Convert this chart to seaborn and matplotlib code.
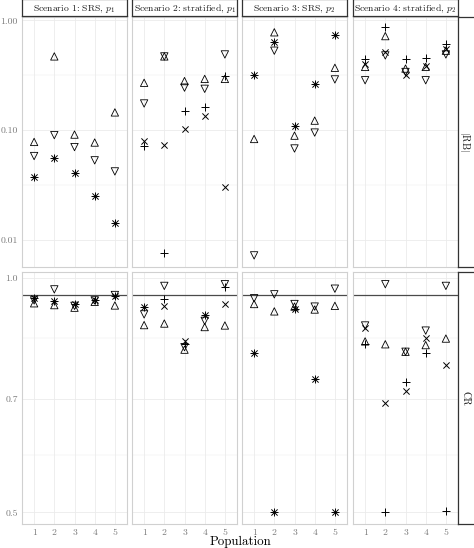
import numpy as np
import pandas as pd
import matplotlib
matplotlib.use("Agg")
import matplotlib.pyplot as plt
import seaborn as sns

# ---------------- data ----------------
populations = [1, 2, 3, 4, 5]
scenarios = ["Scenario 1: SRS, $p_1$", "Scenario 2: stratified, $p_1$",
             "Scenario 3: SRS, $p_2$", "Scenario 4: stratified, $p_2$"]
metrics = ["|RB|", "CR"]
estimators = ["tri_up", "tri_down", "cross", "plus"]

# |RB|
rb_s1_up = [0.078, 0.47, 0.091, 0.077, 0.145]
rb_s1_down = [0.058, 0.090, 0.070, 0.053, 0.042]
rb_s1_cross = [0.037, 0.056, 0.041, 0.025, 0.0143]
rb_s1_plus = [0.037, 0.056, 0.041, 0.025, 0.0143]

rb_s2_up = [0.27, 0.47, 0.28, 0.293, 0.293]
rb_s2_down = [0.175, 0.47, 0.244, 0.238, 0.49]
rb_s2_cross = [0.080, 0.073, 0.103, 0.135, 0.030]
rb_s2_plus = [0.072, 0.0075, 0.148, 0.162, 0.31]

rb_s3_up = [0.083, 0.78, 0.089, 0.122, 0.37]
rb_s3_down = [0.0072, 0.53, 0.068, 0.095, 0.29]
rb_s3_cross = [0.32, 0.64, 0.109, 0.266, 0.74]
rb_s3_plus = [0.32, 0.64, 0.109, 0.266, 0.74]

rb_s4_up = [0.377, 0.72, 0.364, 0.377, 0.53]
rb_s4_down = [0.285, 0.48, 0.339, 0.285, 0.49]
rb_s4_cross = [0.40, 0.515, 0.32, 0.385, 0.545]
rb_s4_plus = [0.445, 0.87, 0.445, 0.45, 0.61]

# CR
cr_s1_up = [0.928, 0.923, 0.916, 0.932, 0.922]
cr_s1_down = [0.936, 0.967, 0.921, 0.936, 0.951]
cr_s1_cross = [0.942, 0.934, 0.925, 0.938, 0.949]
cr_s1_plus = [0.942, 0.934, 0.925, 0.938, 0.949]

cr_s2_up = [0.870, 0.874, 0.809, 0.865, 0.869]
cr_s2_down = [0.898, 0.977, 0.815, 0.881, 0.982]
cr_s2_cross = [0.917, 0.921, 0.830, 0.896, 0.925]
cr_s2_plus = [0.917, 0.941, 0.822, 0.896, 0.973]

cr_s3_up = [0.926, 0.906, 0.919, 0.911, 0.921]
cr_s3_down = [0.942, 0.953, 0.926, 0.919, 0.969]
cr_s3_cross = [0.800, 0.500, 0.912, 0.742, 0.500]
cr_s3_plus = [0.800, 0.500, 0.912, 0.742, 0.500]

cr_s4_up = [0.829, 0.822, 0.804, 0.820, 0.836]
cr_s4_down = [0.869, 0.982, 0.804, 0.856, 0.977]
cr_s4_cross = [0.862, 0.691, 0.715, 0.838, 0.774]
cr_s4_plus = [0.823, 0.500, 0.736, 0.802, 0.502]

nominal_cr = 0.95
rb_ticks = [0.01, 0.10, 1.00]
rb_tick_labels = ["0.01", "0.10", "1.00"]
cr_ticks = [0.5, 0.7, 1.0]
cr_tick_labels = ["0.5", "0.7", "1.0"]

# ---------------- tidy table ----------------
series = {
    ("|RB|", 0): [rb_s1_up, rb_s1_down, rb_s1_cross, rb_s1_plus],
    ("|RB|", 1): [rb_s2_up, rb_s2_down, rb_s2_cross, rb_s2_plus],
    ("|RB|", 2): [rb_s3_up, rb_s3_down, rb_s3_cross, rb_s3_plus],
    ("|RB|", 3): [rb_s4_up, rb_s4_down, rb_s4_cross, rb_s4_plus],
    ("CR", 0): [cr_s1_up, cr_s1_down, cr_s1_cross, cr_s1_plus],
    ("CR", 1): [cr_s2_up, cr_s2_down, cr_s2_cross, cr_s2_plus],
    ("CR", 2): [cr_s3_up, cr_s3_down, cr_s3_cross, cr_s3_plus],
    ("CR", 3): [cr_s4_up, cr_s4_down, cr_s4_cross, cr_s4_plus],
}
rows = []
for (metric, si), vals in series.items():
    for est, v in zip(estimators, vals):
        for p, val in zip(populations, v):
            rows.append(dict(metric=metric, scenario=scenarios[si],
                             estimator=est, population=p, value=val))
df = pd.DataFrame(rows)

# ---------------- style ----------------
sns.set_theme(style="white")
plt.rcParams["font.family"] = ["cmr10", "DejaVu Serif"]
plt.rcParams["mathtext.fontset"] = "cm"
plt.rcParams["axes.formatter.use_mathtext"] = True
plt.rcParams["axes.unicode_minus"] = False

W, H = 474, 548
fig = plt.figure(figsize=(W / 100, H / 100), dpi=100)


def rect(x0, y0, x1, y1):
    return [x0 / W, 1 - y1 / H, (x1 - x0) / W, (y1 - y0) / H]


col_x = [(22, 127), (132, 237), (242, 347), (353, 458)]
row_y = [(16.5, 266.5), (272, 524)]
ylims = {"|RB|": (0.0057, 1.087), "CR": (0.483, 1.018)}
marker_kw = {
    "tri_up": dict(marker="^", facecolor="none", edgecolor="black", linewidth=0.6, s=28),
    "tri_down": dict(marker="v", facecolor="none", edgecolor="black", linewidth=0.6, s=28),
    "cross": dict(marker="x", linewidth=0.7, s=20),
    "plus": dict(marker="+", linewidth=0.7, s=32),
}
grid_c = "#ebebeb"
tick_c = "#7a7a7a"

for r, metric in enumerate(metrics):
    for c, scen in enumerate(scenarios):
        x0, x1 = col_x[c]
        y0, y1 = row_y[r]
        ax = fig.add_axes(rect(x0, y0, x1, y1))
        ax.set_yscale("log")
        lo, hi = ylims[metric]
        ax.set_ylim(lo, hi)
        ax.set_xlim(0.4, 5.6)
        ticks = rb_ticks if metric == "|RB|" else cr_ticks
        labels = rb_tick_labels if metric == "|RB|" else cr_tick_labels
        # grid
        for p in populations:
            ax.axvline(p, color=grid_c, lw=0.6, zorder=0)
        for t in ticks:
            ax.axhline(t, color=grid_c, lw=0.6, zorder=0)
        lt = np.log10(ticks)
        for a, b in zip(lt[:-1], lt[1:]):
            ax.axhline(10 ** ((a + b) / 2), color=grid_c, lw=0.35, zorder=0)
        if metric == "CR":
            ax.axhline(nominal_cr, color="#4a4a4a", lw=0.9, zorder=1)
        sub = df[(df.metric == metric) & (df.scenario == scen)]
        for est in estimators:
            d = sub[sub.estimator == est]
            kw = dict(marker_kw[est])
            sns.scatterplot(data=d, x="population", y="value", ax=ax,
                            color="black", legend=False, zorder=3, **kw)
        ax.set_xlabel("")
        ax.set_ylabel("")
        ax.set_yticks(ticks)
        ax.minorticks_off()
        ax.set_xticks(populations)
        if c == 0:
            ax.set_yticklabels(labels)
        else:
            ax.set_yticklabels([])
        if r == 1:
            ax.set_xticklabels([str(p) for p in populations])
        else:
            ax.set_xticklabels([])
        ax.tick_params(axis="both", length=1.5, width=0.5, color="#cfcfcf",
                       labelsize=7, labelcolor=tick_c, pad=1.5)
        for s in ax.spines.values():
            s.set_color("#d0d0d0")
            s.set_linewidth(0.8)
        ax.patch.set_alpha(0)

        # top strips
        if r == 0:
            sax = fig.add_axes(rect(x0, -1, x1, 15.5))
            sax.set_xticks([]); sax.set_yticks([])
            for s in sax.spines.values():
                s.set_color("#333333"); s.set_linewidth(0.9)
            sax.text(0.5, 0.42, scen, ha="center", va="center", fontsize=6.9,
                     transform=sax.transAxes, color="#1a1a1a")
    # right strip
    y0, y1 = row_y[r]
    rax = fig.add_axes(rect(458, y0, 476, y1))
    rax.set_xticks([]); rax.set_yticks([])
    for s in rax.spines.values():
        s.set_color("#333333"); s.set_linewidth(0.9)
    lab = r"$|\mathrm{RB}|$" if metric == "|RB|" else "CR"
    rax.text(0.4, 0.5, lab, ha="center", va="center", rotation=-90,
             fontsize=7.2, transform=rax.transAxes, color="#1a1a1a")

fig.text(240 / W, 1 - 542 / H, "Population", ha="center", va="center",
         fontsize=9.3, color="black")

fig.savefig("out.png", dpi=100)
